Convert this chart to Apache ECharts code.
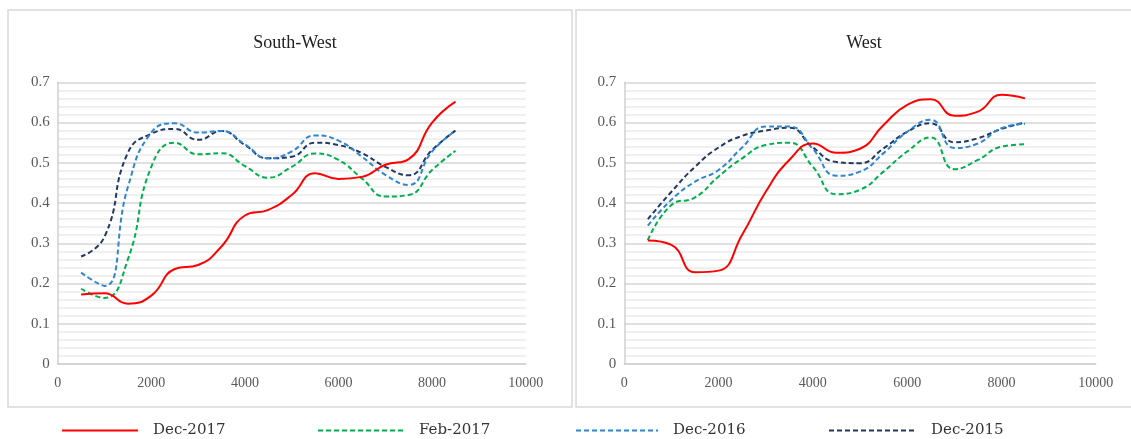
<!DOCTYPE html>
<html>
<head>
<meta charset="utf-8">
<script src="https://cdn.jsdelivr.net/npm/echarts@6/dist/echarts.min.js"></script>
<style>
html,body{margin:0;padding:0;background:#fff;}
#chart{width:1131px;height:439px;}
</style>
</head>
<body>
<div id="chart"></div>
<script>
// ---- data ----
const panelTitles = ['South-West', 'West'];
const seriesNames = ['Dec-2017', 'Feb-2017', 'Dec-2016', 'Dec-2015'];
const xValues = [500, 1000, 1500, 2000, 2500, 3000, 3500, 4000, 4500, 5000, 5500, 6000, 6500, 7000, 7500, 8000, 8500];
const xTicks = [0, 2000, 4000, 6000, 8000, 10000];
const yTicks = [0, 0.1, 0.2, 0.3, 0.4, 0.5, 0.6, 0.7];

const swDec2017 = [0.173, 0.176, 0.150, 0.170, 0.236, 0.246, 0.292, 0.369, 0.383, 0.420, 0.474, 0.460, 0.465, 0.495, 0.509, 0.600, 0.652];
const swFeb2017 = [0.187, 0.164, 0.260, 0.490, 0.550, 0.521, 0.524, 0.492, 0.463, 0.490, 0.523, 0.507, 0.461, 0.416, 0.420, 0.482, 0.530];
const swDec2016 = [0.227, 0.194, 0.440, 0.575, 0.598, 0.575, 0.579, 0.546, 0.511, 0.528, 0.568, 0.555, 0.515, 0.470, 0.445, 0.528, 0.580];
const swDec2015 = [0.267, 0.316, 0.525, 0.572, 0.584, 0.557, 0.579, 0.544, 0.511, 0.515, 0.550, 0.544, 0.524, 0.490, 0.469, 0.532, 0.580];

const wDec2017 = [0.307, 0.296, 0.228, 0.232, 0.321, 0.428, 0.507, 0.548, 0.525, 0.535, 0.594, 0.644, 0.658, 0.617, 0.627, 0.669, 0.660];
const wFeb2017 = [0.308, 0.395, 0.414, 0.466, 0.511, 0.544, 0.550, 0.490, 0.422, 0.433, 0.478, 0.528, 0.563, 0.484, 0.507, 0.540, 0.546];
const wDec2016 = [0.344, 0.408, 0.453, 0.482, 0.538, 0.590, 0.590, 0.534, 0.468, 0.478, 0.524, 0.577, 0.607, 0.537, 0.548, 0.586, 0.597];
const wDec2015 = [0.360, 0.428, 0.490, 0.538, 0.567, 0.580, 0.587, 0.538, 0.502, 0.499, 0.536, 0.577, 0.598, 0.551, 0.561, 0.584, 0.600];

// ---- styling ----
const colors = ['#ff0000', '#00b050', '#2e86d1', '#1f3864'];
const lineTypes = ['solid', [5, 3], [5, 3], [5, 3]];
const serif = '"Liberation Serif", "Times New Roman", serif';

const panelData = [
  [swDec2017, swFeb2017, swDec2016, swDec2015],
  [wDec2017, wFeb2017, wDec2016, wDec2015]
];

const grids = [
  { left: 57.7, right: 1131 - 525.7, top: 82.3, bottom: 439 - 364 },
  { left: 624.3, right: 1131 - 1095.7, top: 82.3, bottom: 439 - 364 }
];

function mkX(i) {
  return {
    type: 'value', gridIndex: i, min: xTicks[0], max: xTicks[xTicks.length - 1], interval: xTicks[1] - xTicks[0],
    axisLine: { show: true, lineStyle: { color: '#d0d0d0', width: 1.5 } },
    axisTick: { show: false },
    splitLine: { show: false },
    axisLabel: { color: '#595959', fontFamily: serif, fontSize: 14, margin: 12,
      formatter: v => String(v) }
  };
}
function mkY(i) {
  return {
    type: 'value', gridIndex: i, min: yTicks[0], max: yTicks[yTicks.length - 1], interval: 0.1,
    axisLine: { show: true, lineStyle: { color: '#d0d0d0', width: 1.5 } },
    axisTick: { show: false },
    splitLine: { show: true, lineStyle: { color: '#d6d6d6', width: 1.5 } },
    minorTick: { show: false, splitNumber: 5 },
    minorSplitLine: { show: true, lineStyle: { color: '#ececec', width: 1.5 } },
    axisLabel: { color: '#595959', fontFamily: serif, fontSize: 15, margin: 8,
      formatter: v => (Math.round(v * 10) / 10).toString() }
  };
}

const series = [];
for (let p = 0; p < 2; p++) {
  for (let s = 0; s < 4; s++) {
    series.push({
      name: seriesNames[s],
      type: 'line',
      xAxisIndex: p, yAxisIndex: p,
      data: xValues.map((x, k) => [x, panelData[p][s][k]]),
      smooth: 0.5,
      symbol: 'none',
      color: colors[s],
      lineStyle: { color: colors[s], width: 2, type: lineTypes[s] },
      z: 10 - s
    });
  }
}

const legendLeft = [61, 317, 575, 828];
const legendWidth = [76, 86, 82, 87];
const legends = seriesNames.map((n, i) => ({
  data: [n],
  left: legendLeft[i],
  top: 423,
  padding: 0,
  itemWidth: legendWidth[i],
  itemHeight: 16,
  itemStyle: { opacity: 0 },
  textStyle: { fontFamily: '"DejaVu Serif", serif', fontSize: 15, color: '#333', padding: [0, 0, 0, 10] }
}));

const chart = echarts.init(document.getElementById('chart'), null, { renderer: 'canvas' });
chart.setOption({
  backgroundColor: '#ffffff',
  animation: false,
  title: [
    { text: panelTitles[0], left: 290, top: 29, textAlign: 'center',
      textStyle: { fontFamily: serif, fontSize: 18, fontWeight: 'normal', color: '#222' } },
    { text: panelTitles[1], left: 859, top: 29, textAlign: 'center',
      textStyle: { fontFamily: serif, fontSize: 18, fontWeight: 'normal', color: '#222' } }
  ],
  graphic: [
    { type: 'rect', shape: { x: 8, y: 10, width: 564, height: 397 }, style: { fill: 'none', stroke: '#d9d9d9', lineWidth: 1.5 }, z: -1 },
    { type: 'rect', shape: { x: 576, y: 10, width: 560, height: 397 }, style: { fill: 'none', stroke: '#d9d9d9', lineWidth: 1.5 }, z: -1 }
  ],
  legend: legends,
  grid: grids,
  xAxis: [mkX(0), mkX(1)],
  yAxis: [mkY(0), mkY(1)],
  series: series
});
</script>
</body>
</html>
